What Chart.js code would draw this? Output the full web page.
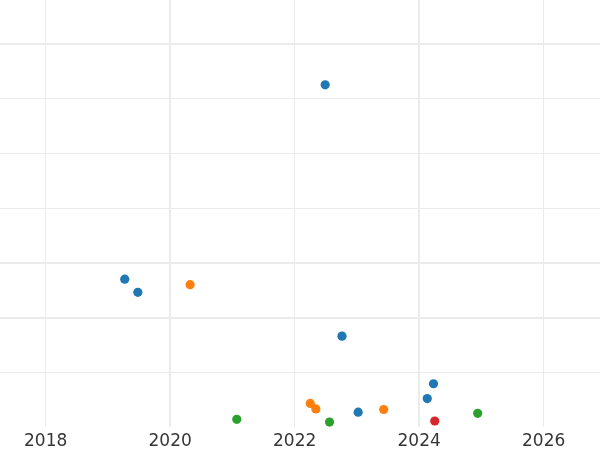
<!DOCTYPE html>
<html>
<head>
<meta charset="utf-8">
<script src="https://cdn.jsdelivr.net/npm/chart.js@4/dist/chart.umd.min.js"></script>
<style>
  html, body { margin: 0; padding: 0; background: #fff; overflow: hidden; }
  canvas { display: block; }
</style>
</head>
<body>
<canvas id="chart" width="600" height="450"></canvas>
<script>
// x = year (decimal), y = value
const blueX = [2019.27, 2019.48, 2022.49, 2022.76, 2023.02, 2024.13, 2024.23]
const blueY = [2.70, 2.46, 6.25, 1.66, 0.27, 0.52, 0.79]
const orangeX = [2020.32, 2022.25, 2022.34, 2023.43]
const orangeY = [2.60, 0.43, 0.33, 0.32]
const greenX = [2021.07, 2022.56, 2024.94]
const greenY = [0.14, 0.09, 0.25]
const redX = [2024.25]
const redY = [0.11]

const xTicks = [2018, 2020, 2022, 2024, 2026]
const yTicks = [1, 2, 3, 4, 5, 6, 7]

const toPoints = (xs, ys) => xs.map((x, i) => ({ x: x, y: ys[i] }))

const series = [
    { label: 'A', color: '#1f77b4', data: toPoints(blueX, blueY) },
    { label: 'B', color: '#ff7f0e', data: toPoints(orangeX, orangeY) },
    { label: 'C', color: '#2ca02c', data: toPoints(greenX, greenY) },
    { label: 'D', color: '#d62728', data: toPoints(redX, redY) },
]

// some grid lines render a bit heavier in the reference
const thickX = [2020, 2024]
const thickY = [3, 2, 7]

new Chart(document.getElementById('chart'), {
    type: 'scatter',
    data: {
        datasets: series.map(s => ({
            label: s.label,
            data: s.data,
            backgroundColor: s.color,
            borderColor: s.color,
            borderWidth: 0,
            pointRadius: 4.6,
        }))
    },
    options: {
        responsive: false,
        animation: false,
        layout: { padding: 0, autoPadding: false },
        plugins: {
            legend: { display: false },
            tooltip: { enabled: false }
        },
        scales: {
            x: {
                type: 'linear',
                min: 2017.266,
                max: 2026.905,
                afterBuildTicks: axis => { axis.ticks = xTicks.map(v => ({ value: v })) },
                afterFit: axis => { axis.height = 23 },
                grid: {
                    color: '#ebebeb',
                    lineWidth: ctx => thickX.includes(ctx.tick && ctx.tick.value) ? 2 : 1,
                    drawTicks: false
                },
                border: { display: false },
                ticks: {
                    padding: 4,
                    color: '#363636',
                    font: { family: 'DejaVu Sans', size: 17 },
                    callback: v => String(v)
                }
            },
            y: {
                type: 'linear',
                min: 0,
                max: 7.8,
                afterBuildTicks: axis => { axis.ticks = yTicks.map(v => ({ value: v })) },
                grid: {
                    color: '#ebebeb',
                    lineWidth: ctx => thickY.includes(ctx.tick && ctx.tick.value) ? 2 : 1,
                    drawTicks: false
                },
                border: { display: false },
                ticks: { display: false }
            }
        }
    }
})
</script>
</body>
</html>
